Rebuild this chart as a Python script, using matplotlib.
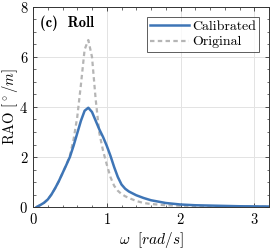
import matplotlib
matplotlib.use("Agg")
import matplotlib.pyplot as plt
from matplotlib.ticker import MultipleLocator

plt.rcParams['font.family'] = 'serif'
plt.rcParams['font.serif'] = ['cmr10', 'DejaVu Serif']
plt.rcParams['mathtext.fontset'] = 'cm'
plt.rcParams['axes.formatter.use_mathtext'] = True

omega = [0.05, 0.1, 0.15, 0.2, 0.25, 0.3, 0.35, 0.4, 0.45, 0.5, 0.55, 0.6,
         0.65, 0.7, 0.75, 0.8, 0.85, 0.9, 0.95, 1.0, 1.05, 1.1, 1.15, 1.2,
         1.25, 1.3, 1.4, 1.5, 1.6, 1.8, 2.0, 2.2, 2.5, 2.8, 3.2]
calibrated = [0.0, 0.08, 0.17, 0.3, 0.5, 0.75, 1.03, 1.35, 1.67, 2.0, 2.45,
              2.95, 3.45, 3.85, 3.97, 3.8, 3.45, 3.1, 2.8, 2.45, 2.05, 1.6,
              1.2, 0.9, 0.73, 0.62, 0.47, 0.36, 0.27, 0.16, 0.1, 0.07, 0.05,
              0.03, 0.02]
original = [0.0, 0.08, 0.17, 0.3, 0.5, 0.75, 1.03, 1.35, 1.68, 2.05, 2.7,
            3.6, 4.9, 6.3, 6.68, 6.0, 4.3, 2.95, 2.25, 1.7, 1.2, 0.85, 0.65,
            0.52, 0.43, 0.36, 0.24, 0.16, 0.12, 0.07, 0.05, 0.04, 0.03, 0.02,
            0.01]

fig = plt.figure(figsize=(2.72, 2.5), dpi=100)
ax = fig.add_axes([33/272, 1-207/250, 236/272, 200/250])

ax.plot(omega, calibrated, color='#3e75b6', lw=1.8, label='Calibrated', zorder=3)
ax.plot(omega, original, color='#b5b5b5', lw=1.6, ls=(0, (2, 1.5)), label='Original', zorder=2)

ax.set_xlim(0, 3.2)
ax.set_ylim(0, 8)
ax.xaxis.set_major_locator(MultipleLocator(1))
ax.xaxis.set_minor_locator(MultipleLocator(0.2))
ax.yaxis.set_major_locator(MultipleLocator(2))
ax.yaxis.set_minor_locator(MultipleLocator(0.5))
ax.tick_params(which='both', direction='in', top=True, right=True, labelsize=10.5,
               color='#333333')
ax.tick_params(which='major', length=3, width=0.6)
ax.tick_params(which='minor', length=1.8, width=0.5)
ax.grid(True, which='major', color='#e3e3e3', lw=0.7)
ax.set_axisbelow(True)
for s in ax.spines.values():
    s.set_color('#333333')
    s.set_linewidth(0.7)

ax.set_xlabel(r'$\omega\ \ [rad/s]$', fontsize=11, labelpad=2)
ax.set_ylabel(r'RAO $[^\circ/m]$', fontsize=10.5)
ax.yaxis.set_label_coords(-0.055, 0.5)
ax.text(0.03, 0.955, '(c)  Roll', transform=ax.transAxes, fontfamily='cmb10',
        fontsize=10.5, va='top', ha='left')

leg = ax.legend(loc='upper right', fontsize=10, frameon=True, fancybox=False,
                edgecolor='#333333', handlelength=2.8, handletextpad=0.2,
                borderpad=0.25, labelspacing=0.2, borderaxespad=0.7)
leg.get_frame().set_linewidth(0.7)

fig.savefig('out.png', dpi=100)
